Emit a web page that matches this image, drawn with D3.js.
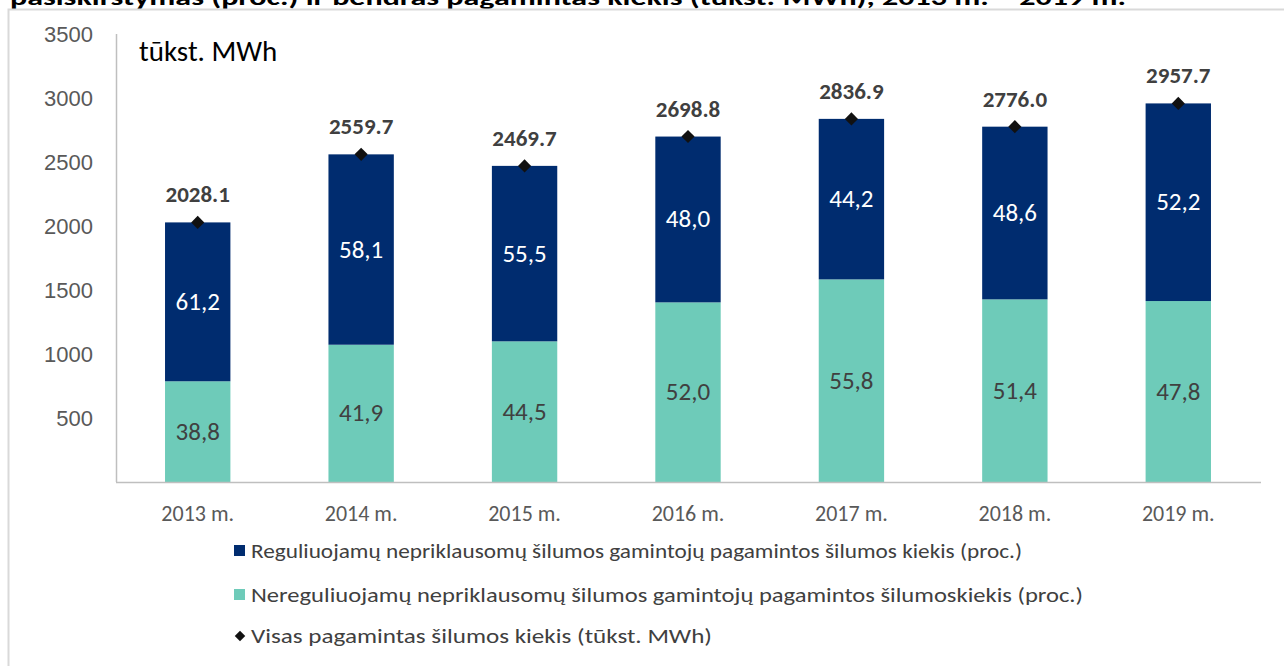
<!DOCTYPE html>
<html>
<head>
<meta charset="utf-8">
<script src="https://cdn.jsdelivr.net/npm/d3@7"></script>
<style>
  body { margin: 0; background: #fff; }
  svg { display: block; font-family: Carlito, "Open Sans", "Noto Sans", sans-serif; }
</style>
</head>
<body>
<svg id="chart" width="1284" height="666"></svg>
<script>
// data
var years = ["2013 m.", "2014 m.", "2015 m.", "2016 m.", "2017 m.", "2018 m.", "2019 m."];
var totals = [2028.1, 2559.7, 2469.7, 2698.8, 2836.9, 2776.0, 2957.7];
var regPct = [61.2, 58.1, 55.5, 48.0, 44.2, 48.6, 52.2];
var neregPct = [38.8, 41.9, 44.5, 52.0, 55.8, 51.4, 47.8];
var yTicks = [500, 1000, 1500, 2000, 2500, 3000, 3500];
var legendLabels = [
    "Reguliuojamų nepriklausomų šilumos gamintojų pagamintos šilumos kiekis (proc.)",
    "Nereguliuojamų nepriklausomų šilumos gamintojų pagamintos šilumoskiekis (proc.)",
    "Visas pagamintas šilumos kiekis (tūkst. MWh)"
];
var title = "pasiskirstymas (proc.) ir bendras pagamintas kiekis (tūkst. MWh), 2013 m. – 2019 m.";

const NAVY = "#002c6f", TEAL = "#6ecbb9";
var svg = d3.select("#chart");

// title, cut off by the top edge like in the source
svg.append("text")
    .attr("x", 10).attr("y", 5)
    .attr("font-weight", "bold").attr("font-size", 22)
    .attr("textLength", 1116).attr("lengthAdjust", "spacingAndGlyphs")
    .attr("fill", "#000")
    .text(title);

// chart frame
svg.append("path")
    .attr("d", "M8.5,670 V9.5 H1290")
    .attr("fill", "none").attr("stroke", "#d9d9d9").attr("stroke-width", 2);

var x = d3.scaleBand().domain(years).range([116, 1260]).paddingInner(0.6).paddingOuter(0.3);
var y = d3.scaleLinear().domain([0, 3500]).range([482, 34]);

svg.append("line").attr("x1", 116.5).attr("x2", 116.5).attr("y1", 34).attr("y2", 482)
    .attr("stroke", "#bfbfbf").attr("stroke-width", 1.5);

var yAxis = svg.append("g").attr("transform", "translate(116,0)")
    .call(d3.axisLeft(y).tickValues(yTicks).tickFormat(d3.format("d")).tickSize(0).tickPadding(23));
yAxis.select(".domain").remove();
yAxis.selectAll("text").attr("font-size", 22).attr("fill", "#595959").attr("font-family", null);

var rows = years.map(function(d, i){
    var low = totals[i] * neregPct[i] / 100;
    return {year: d, total: totals[i], low: low, reg: regPct[i], nereg: neregPct[i]};
});

// teal (bottom) segments
svg.selectAll("rect.low").data(rows).join("rect").attr("class", "low")
    .attr("x", d => x(d.year)).attr("width", x.bandwidth())
    .attr("y", d => y(d.low)).attr("height", d => y(0) - y(d.low))
    .attr("fill", TEAL);

// navy (top) segments
svg.selectAll("rect.high").data(rows).join("rect").attr("class", "high")
    .attr("x", d => x(d.year)).attr("width", x.bandwidth())
    .attr("y", d => y(d.total)).attr("height", d => y(d.low) - y(d.total))
    .attr("fill", NAVY);

svg.append("line").attr("x1", 116).attr("x2", 1261).attr("y1", 482.5).attr("y2", 482.5)
    .attr("stroke", "#bfbfbf").attr("stroke-width", 1.5);

var cx = d => x(d.year) + x.bandwidth() / 2;

// percentage labels
svg.selectAll("text.lowlab").data(rows).join("text").attr("class", "lowlab")
    .attr("x", cx).attr("y", d => (y(0) + y(d.low)) / 2 + 8)
    .attr("text-anchor", "middle").attr("font-size", 25).attr("fill", "#404040")
    .text(d => d.nereg.toFixed(1).replace(".", ","));
svg.selectAll("text.highlab").data(rows).join("text").attr("class", "highlab")
    .attr("x", cx).attr("y", d => (y(d.low) + y(d.total)) / 2 + 8)
    .attr("text-anchor", "middle").attr("font-size", 25).attr("fill", "#fff")
    .text(d => d.reg.toFixed(1).replace(".", ","));

// total markers
var diamond = d3.symbol().type(d3.symbolDiamond2).size(110);
svg.selectAll("path.tot").data(rows).join("path").attr("class", "tot")
    .attr("transform", d => "translate(" + cx(d) + "," + y(d.total) + ")")
    .attr("d", diamond).attr("fill", "#111");

svg.selectAll("text.totlab").data(rows).join("text").attr("class", "totlab")
    .attr("x", cx).attr("y", d => y(d.total) - 20)
    .attr("text-anchor", "middle").attr("font-size", 23).attr("font-weight", "bold")
    .attr("fill", "#404040")
    .text(d => d.total.toFixed(1));

// unit label
svg.append("text").attr("x", 139).attr("y", 61)
    .attr("font-size", 29).attr("fill", "#000").text("tūkst. MWh");

// x labels
svg.selectAll("text.xlab").data(rows).join("text").attr("class", "xlab")
    .attr("x", cx).attr("y", 521)
    .attr("text-anchor", "middle").attr("font-size", 22).attr("fill", "#595959")
    .text(d => d.year);

// legend
var legendY = [551, 595, 636];
var legendW = [771, 832, 461];
var lg = svg.selectAll("g.leg").data(legendLabels).join("g").attr("class", "leg")
    .attr("transform", (d, i) => "translate(240," + legendY[i] + ")");
lg.filter((d, i) => i < 2).append("rect")
    .attr("x", -6).attr("y", -6).attr("width", 11).attr("height", 11)
    .attr("fill", (d, i) => i === 0 ? NAVY : TEAL);
lg.filter((d, i) => i === 2).append("path")
    .attr("d", d3.symbol().type(d3.symbolDiamond2).size(70)).attr("fill", "#111");
lg.append("text").attr("x", 11).attr("y", 7)
    .attr("font-size", 21).attr("fill", "#404040")
    .attr("textLength", (d, i) => legendW[i]).attr("lengthAdjust", "spacingAndGlyphs")
    .text(d => d);
</script>
</body>
</html>
